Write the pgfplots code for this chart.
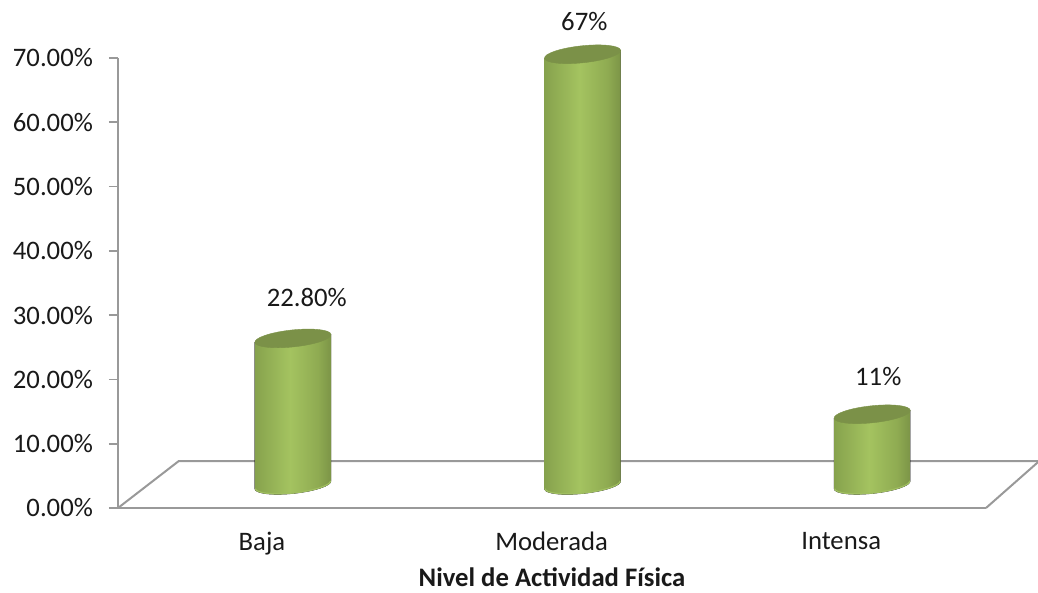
\documentclass[border=0pt]{standalone}
\usepackage{pgfplots}
\pgfplotsset{compat=1.18}
\usepackage{fontspec}
\setmainfont{Carlito}

\definecolor{axisgray}{HTML}{999999}
\definecolor{capgreen}{HTML}{7B9148}
\definecolor{rimgreen}{HTML}{A0BF60}

% Horizontal light falloff across the cylinder body
\pgfdeclarehorizontalshading{cylbody}{100bp}{
  rgb(0bp)=(0.33,0.41,0.19);
  rgb(10bp)=(0.43,0.52,0.25);
  rgb(28bp)=(0.54,0.65,0.31);
  rgb(48bp)=(0.643,0.765,0.376);
  rgb(66bp)=(0.56,0.67,0.32);
  rgb(84bp)=(0.40,0.48,0.23);
  rgb(100bp)=(0.28,0.34,0.16)
}

% Tilted cylinder, anchored at the centre of its top face;
% one data unit on the y axis is 6.43pt
\pgfdeclareplotmark{cylinder}{%
  \pgfkeys{/pgf/fpu=false}%
  \pgfmathsetmacro{\cylh}{\barval*6.43}%
  \begin{scope}
    \clip
      (-38.09pt,-4pt) -- (-38.09pt,-4pt-\cylh pt)
      .. controls (-37.6pt,-8.67pt-\cylh pt) and (-20.15pt,-10.66pt-\cylh pt)
      .. (0.89pt,-8.45pt-\cylh pt)
      .. controls (21.93pt,-6.24pt-\cylh pt) and (38.58pt,-0.67pt-\cylh pt)
      .. (38.09pt,4pt-\cylh pt)
      -- (38.09pt,4pt) -- cycle;
    \shade[shading=cylbody] (-39pt,6pt) rectangle (39pt,-12pt-\cylh pt);
    % lighter rim along the lower edge
    \draw[rimgreen, line width=2.4pt]
      (-38.09pt,-4pt-\cylh pt)
      .. controls (-37.6pt,-8.67pt-\cylh pt) and (-20.15pt,-10.66pt-\cylh pt)
      .. (0.89pt,-8.45pt-\cylh pt)
      .. controls (21.93pt,-6.24pt-\cylh pt) and (38.58pt,-0.67pt-\cylh pt)
      .. (38.09pt,4pt-\cylh pt);
  \end{scope}
  % top face, an ellipse tilted by six degrees
  \fill[capgreen]
    (38.09pt,4pt)
    .. controls (37.6pt,8.67pt) and (20.15pt,10.66pt) .. (-0.89pt,8.45pt)
    .. controls (-21.93pt,6.24pt) and (-38.58pt,0.67pt) .. (-38.09pt,-4pt)
    .. controls (-37.6pt,-8.67pt) and (-20.15pt,-10.66pt) .. (0.89pt,-8.45pt)
    .. controls (21.93pt,-6.24pt) and (38.58pt,-0.67pt) .. (38.09pt,4pt)
    -- cycle;
}

\begin{document}
\fontsize{26.7}{32}\selectfont
\begin{tikzpicture}
\path[use as bounding box] (0,0) rectangle (1038pt,593pt);
\begin{axis}[
  at={(118pt,85pt)}, anchor=south west,
  scale only axis, width=868pt, height=450pt,
  xmin=-0.497, xmax=2.5, ymin=0, ymax=70,
  axis lines=left,
  axis line style={-, draw=axisgray, line width=2pt},
  clip=false,
  xtick={0,1,2},
  xticklabels={Baja,Moderada,Intensa},
  major x tick style={draw=none},
  ytick={0,10,20,30,40,50,60,70},
  yticklabels={0.00\%,10.00\%,20.00\%,30.00\%,40.00\%,50.00\%,60.00\%,70.00\%},
  major y tick style={draw=axisgray, line width=1.6pt},
  tick align=outside,
  major tick length=9pt,
  ticklabel style={font=\fontsize{26.7}{32}\selectfont, text=black!90},
  yticklabel style={xshift=-7pt},
  xticklabel style={yshift=-6pt},
  xlabel={\textbf{Nivel de Actividad Física}},
  xlabel style={font=\fontsize{26.7}{26.7}\selectfont, text=black!90, inner sep=0pt, yshift=-3.5pt},
]
% Floor of the plot area, behind the columns
\addplot[draw=axisgray, line width=2pt, no marks]
  coordinates {(-0.497,0) (-0.287,7.31) (2.68,7.31)};
\addplot[draw=axisgray, line width=2pt, no marks]
  coordinates {(2.5,0) (2.68,7.15)};

% Columns: x is offset by the depth of the floor, value in the second column
\addplot[
  scatter, only marks, mark=cylinder,
  scatter/use mapped color={draw=none, fill=none},
  visualization depends on={value \thisrow{v} \as \barval},
] table[x=x, y expr=\thisrow{v}+3.58] {
x     v
0.107 22.8
1.107 67
2.107 11
};

\node[text=black!90] at (axis cs:0.155,32.8) {22.80\%};
\node[text=black!90] at (axis cs:1.113,75.6) {67\%};
\node[text=black!90] at (axis cs:2.128,20.4) {11\%};
\end{axis}
\end{tikzpicture}
\end{document}
